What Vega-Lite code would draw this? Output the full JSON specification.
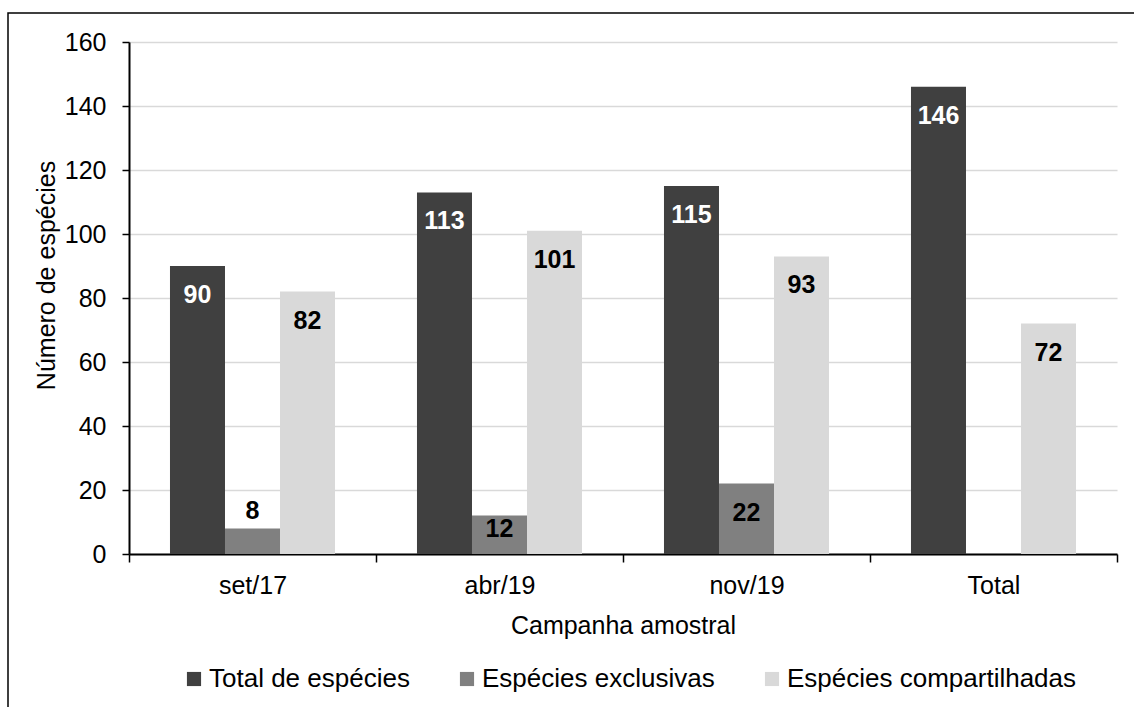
{
  "$schema": "https://vega.github.io/schema/vega-lite/v6.json",
  "width": 1140,
  "height": 710,
  "autosize": {"type": "none"},
  "padding": {"left": 8, "top": 13, "right": 0, "bottom": 0},
  "background": "white",
  "config": {
    "font": "Liberation Sans",
    "view": {"stroke": "black", "strokeWidth": 1.5}
  },
  "data": {
    "values": [
      {"campanha": "set/17", "serie": "Total de espécies", "n": 90},
      {"campanha": "set/17", "serie": "Espécies exclusivas", "n": 8},
      {"campanha": "set/17", "serie": "Espécies compartilhadas", "n": 82},
      {"campanha": "abr/19", "serie": "Total de espécies", "n": 113},
      {"campanha": "abr/19", "serie": "Espécies exclusivas", "n": 12},
      {"campanha": "abr/19", "serie": "Espécies compartilhadas", "n": 101},
      {"campanha": "nov/19", "serie": "Total de espécies", "n": 115},
      {"campanha": "nov/19", "serie": "Espécies exclusivas", "n": 22},
      {"campanha": "nov/19", "serie": "Espécies compartilhadas", "n": 93},
      {"campanha": "Total", "serie": "Total de espécies", "n": 146},
      {"campanha": "Total", "serie": "Espécies compartilhadas", "n": 72}
    ]
  },
  "encoding": {
    "x": {
      "field": "campanha",
      "type": "nominal",
      "sort": ["set/17", "abr/19", "nov/19", "Total"],
      "scale": {"range": [121, 1109], "paddingInner": 0, "paddingOuter": 0},
      "axis": {
        "orient": "bottom",
        "offset": -169,
        "title": "Campanha amostral",
        "titleFontSize": 25,
        "titleFontWeight": "normal",
        "titleColor": "black",
        "titlePadding": 15,
        "labelAngle": 0,
        "labelFontSize": 25,
        "labelColor": "black",
        "labelPadding": 11,
        "tickBand": "extent",
        "tickSize": 8,
        "tickColor": "black",
        "tickWidth": 1.5,
        "domainColor": "black",
        "domainWidth": 2,
        "grid": false
      }
    },
    "xOffset": {
      "field": "serie",
      "type": "nominal",
      "sort": ["Total de espécies", "Espécies exclusivas", "Espécies compartilhadas"],
      "scale": {
        "domain": ["Total de espécies", "Espécies exclusivas", "Espécies compartilhadas"],
        "paddingInner": 0,
        "paddingOuter": 0.745
      }
    },
    "y": {
      "field": "n",
      "type": "quantitative",
      "scale": {"domain": [0, 160], "range": [541, 29], "nice": false},
      "axis": {
        "orient": "left",
        "offset": -121,
        "values": [0, 20, 40, 60, 80, 100, 120, 140, 160],
        "title": "Número de espécies",
        "titleFontSize": 25,
        "titleFontWeight": "normal",
        "titleColor": "black",
        "titlePadding": 5,
        "titleY": 262,
        "labelFontSize": 25,
        "labelColor": "black",
        "labelPadding": 16,
        "tickSize": 7,
        "tickColor": "black",
        "tickWidth": 1.5,
        "domainColor": "black",
        "domainWidth": 2,
        "grid": true,
        "gridColor": "#d9d9d9",
        "gridWidth": 1.5
      }
    }
  },
  "layer": [
    {
      "mark": {"type": "bar"},
      "encoding": {
        "color": {
          "field": "serie",
          "type": "nominal",
          "sort": ["Total de espécies", "Espécies exclusivas", "Espécies compartilhadas"],
          "scale": {
            "domain": ["Total de espécies", "Espécies exclusivas", "Espécies compartilhadas"],
            "range": ["#404040", "#808080", "#d9d9d9"]
          },
          "legend": {
            "title": null,
            "orient": "none",
            "direction": "horizontal",
            "legendX": 173,
            "legendY": 653,
            "symbolType": "square",
            "symbolSize": 200,
            "symbolStrokeWidth": 0,
            "symbolOpacity": 1,
            "labelFontSize": 26,
            "labelColor": "black",
            "labelOffset": 2,
            "labelLimit": 400,
            "columnPadding": 44
          }
        }
      }
    },
    {
      "transform": [{"filter": "datum.n >= 20"}],
      "mark": {"type": "text", "fontSize": 25, "fontWeight": "bold", "baseline": "alphabetic", "align": "center", "dy": 37},
      "encoding": {
        "text": {"field": "n", "type": "quantitative"},
        "color": {
          "condition": {"test": "datum.serie === 'Total de espécies'", "value": "white"},
          "value": "black"
        }
      }
    },
    {
      "transform": [{"filter": "datum.n >= 10 && datum.n < 20"}],
      "mark": {"type": "text", "fontSize": 25, "fontWeight": "bold", "baseline": "alphabetic", "align": "center", "dy": -17},
      "encoding": {
        "y": {"datum": 0, "type": "quantitative"},
        "text": {"field": "n", "type": "quantitative"},
        "color": {"value": "black"}
      }
    },
    {
      "transform": [{"filter": "datum.n < 10"}],
      "mark": {"type": "text", "fontSize": 25, "fontWeight": "bold", "baseline": "alphabetic", "align": "center", "dy": -9},
      "encoding": {
        "text": {"field": "n", "type": "quantitative"},
        "color": {"value": "black"}
      }
    }
  ]
}
